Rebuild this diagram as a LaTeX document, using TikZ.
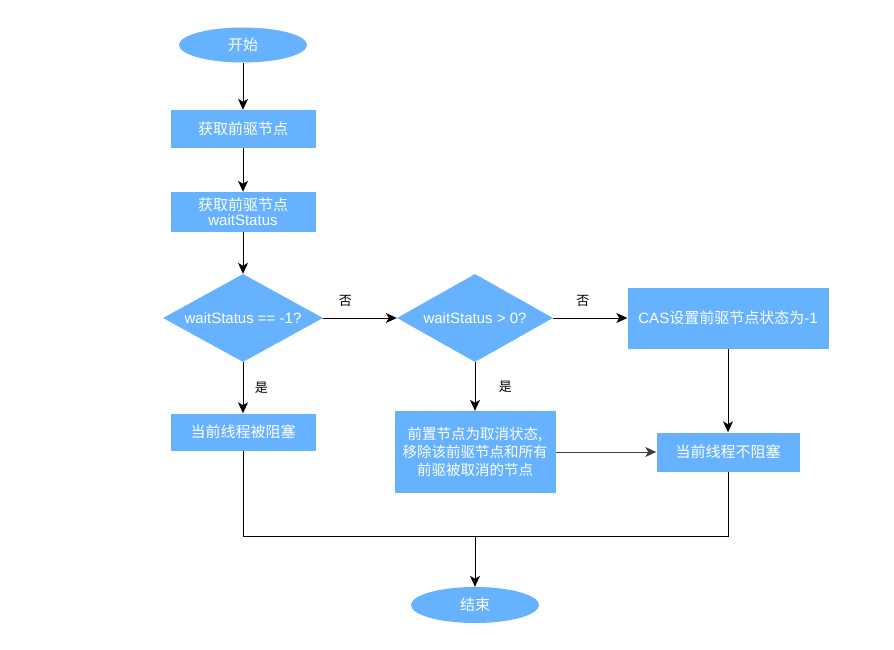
\documentclass[tikz,border=0pt]{standalone}
\usepackage{fontspec}
\setmainfont{Liberation Sans}
\newfontfamily\cjk{Noto Sans CJK SC}
\usetikzlibrary{shapes.geometric,arrows.meta}
\definecolor{flowblue}{HTML}{66B2FF}
\newcommand{\zh}[1]{{\cjk #1}}
\begin{document}
\begin{tikzpicture}[x=1pt,y=-1pt,
  every node/.style={font=\fontsize{15}{18}\selectfont, text=white},
  term/.style={ellipse, fill=flowblue, minimum width=128pt, minimum height=35pt, inner sep=0pt},
  proc/.style={rectangle, fill=flowblue, minimum width=145pt, minimum height=38pt, inner sep=2pt, align=center},
  dec/.style={diamond, fill=flowblue, minimum width=158pt, minimum height=88pt, inner sep=0pt, aspect=1.8},
  lbl/.style={text=black, font=\fontsize{13}{15}\selectfont\cjk},
  flow/.style={draw=black, line width=1pt, -{Stealth[length=11pt,width=10pt,inset=3pt]}},
  plain/.style={draw=black, line width=1pt}]
\useasboundingbox (0,0) rectangle (894,650);
\node[term] (start) at (243,45) {\zh{开始}};
\node[proc] (get1) at (243,129) {\zh{获取前驱节点}};
\node[proc, minimum height=40pt] (get2) at (243,212) {\zh{获取前驱节点}\\[-3pt]waitStatus};
\node[dec, minimum width=160pt] (d1) at (243,318) {waitStatus == -1?};
\node[dec, minimum width=156pt] (d2) at (475,318) {waitStatus > 0?};
\node[proc, minimum width=201pt, minimum height=61pt] (cas) at (728,318) {CAS\zh{设置前驱节点状态为}-1};
\node[proc, minimum height=37pt] (block) at (243,432) {\zh{当前线程被阻塞}};
\node[proc, minimum width=161pt, minimum height=82pt, font=\fontsize{14.5}{18}\selectfont\cjk] (cancel) at (475,452) {前置节点为取消状态,\\移除该前驱节点和所有\\前驱被取消的节点};
\node[proc, minimum width=143pt, minimum height=39pt] (noblock) at (728,452) {\zh{当前线程不阻塞}};
\node[term, minimum height=36pt] (end) at (475,605) {\zh{结束}};
\coordinate (j1) at (243,536);
\coordinate (j2) at (475,536);
\coordinate (j3) at (728,536);
\draw[flow] (start) -- (get1);
\draw[flow] (get1) -- (get2);
\draw[flow] (get2) -- (d1);
\draw[flow] (d1) -- node[lbl, above=8pt, pos=0.3] {否} (d2);
\draw[flow] (d2) -- node[lbl, above=8pt, pos=0.4] {否} (cas);
\draw[flow] (d1) -- node[lbl, right=8pt] {是} (block);
\draw[flow] (d2) -- node[lbl, right=20pt] {是} (cancel);
\draw[flow] (cas) -- (noblock);
\draw[flow, draw=black!75] (cancel) -- (noblock);
\draw[plain] (block) -- (j1) -- (j3) -- (noblock);
\draw[flow] (j2) -- (end);
\end{tikzpicture}
\end{document}
